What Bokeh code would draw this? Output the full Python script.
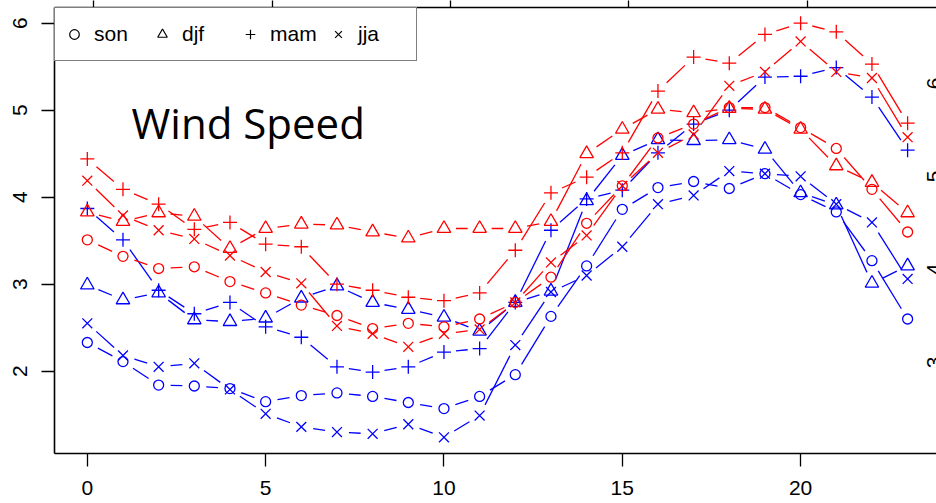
import math
from bokeh.plotting import figure
from bokeh.models import (Range1d, LinearAxis, FixedTicker, Legend, LegendItem,
                          Label)
from bokeh.embed import file_html
from bokeh.resources import INLINE

# ---------------- data ----------------
hours = list(range(24))
seasons = ["son", "djf", "mam", "jja"]

red_son = [3.51, 3.32, 3.18, 3.20, 3.03, 2.90, 2.76, 2.64, 2.49, 2.55, 2.51, 2.60,
           2.79, 3.08, 3.70, 4.13, 4.68, 4.84, 5.03, 5.03, 4.80, 4.56, 4.09, 3.60]
red_djf = [3.83, 3.72, 3.82, 3.78, 3.41, 3.64, 3.69, 3.68, 3.60, 3.53, 3.64, 3.64,
           3.64, 3.72, 4.50, 4.78, 5.01, 4.97, 5.02, 5.01, 4.78, 4.36, 4.17, 3.82]
red_mam = [4.44, 4.09, 3.92, 3.63, 3.71, 3.46, 3.43, 3.00, 2.93, 2.85, 2.81, 2.90,
           3.39, 4.05, 4.23, 4.51, 5.22, 5.61, 5.54, 5.87, 6.00, 5.90, 5.53, 4.85]
red_jja = [4.19, 3.79, 3.62, 3.52, 3.33, 3.14, 3.01, 2.52, 2.43, 2.28, 2.43, 2.48,
           2.79, 3.25, 3.56, 4.13, 4.51, 4.72, 5.28, 5.44, 5.79, 5.44, 5.37, 4.69]

blue_son = [2.33, 2.11, 1.84, 1.83, 1.80, 1.65, 1.72, 1.75, 1.71, 1.64, 1.57, 1.71,
            1.96, 2.63, 3.21, 3.86, 4.11, 4.18, 4.10, 4.27, 4.03, 3.83, 3.27, 2.60]
blue_djf = [2.99, 2.82, 2.90, 2.59, 2.57, 2.61, 2.84, 2.98, 2.79, 2.71, 2.62, 2.46,
            2.79, 2.92, 3.96, 4.48, 4.66, 4.65, 4.66, 4.55, 4.05, 3.91, 3.01, 3.21]
blue_mam = [3.87, 3.51, 2.93, 2.66, 2.79, 2.51, 2.39, 2.05, 1.99, 2.05, 2.22, 2.26,
            2.79, 3.62, 3.98, 4.08, 4.51, 4.84, 5.00, 5.38, 5.39, 5.49, 5.15, 4.54]
blue_jja = [2.55, 2.18, 2.05, 2.09, 1.79, 1.51, 1.36, 1.30, 1.28, 1.39, 1.24, 1.49,
            2.30, 2.91, 3.10, 3.43, 3.92, 4.02, 4.30, 4.27, 4.24, 3.92, 3.71, 3.06]

x_ticks = [0, 5, 10, 15, 20]
y_ticks = [2, 3, 4, 5, 6]
right_ticks = [3, 4, 5, 6]
title_text = "Wind Speed"

# ---------------- layout ----------------
W, H = 936, 503
BL, BR, BT, BB = 54, 0, 7, 50
FW, FH = W - BL - BR, H - BT - BB
X0, X1 = -0.92, 23.81
Y0, Y1 = 1.054, 6.18
KX = FW / (X1 - X0)
KY = FH / (Y1 - Y0)


def sx(px):
    return X0 + (px - BL) / KX


def sy(py):
    return Y1 - (py - BT) / KY


p = figure(width=W, height=H, x_range=Range1d(X0, X1), y_range=Range1d(Y0, Y1),
           x_axis_type=None, y_axis_type=None, output_backend="svg",
           toolbar_location=None, min_border_left=BL, min_border_right=BR,
           min_border_top=BT, min_border_bottom=BB)
p.outline_line_color = None
p.background_fill_color = "white"
p.border_fill_color = "white"

FONT = "Liberation Sans"


def style_axis(ax, ticks, fs="21px"):
    ax.ticker = FixedTicker(ticks=ticks)
    ax.minor_tick_line_color = None
    ax.major_tick_in = 0
    ax.major_tick_out = 13
    ax.axis_line_color = "black"
    ax.axis_line_width = 1.6
    ax.major_tick_line_color = "black"
    ax.major_tick_line_width = 1.3
    ax.major_label_text_font = FONT
    ax.major_label_text_font_size = fs
    ax.major_label_text_color = "black"


xa = LinearAxis()
style_axis(xa, x_ticks)
xa.major_label_standoff = 14
p.add_layout(xa, "below")

ya = LinearAxis()
style_axis(ya, y_ticks)
ya.major_label_orientation = "parallel"
ya.major_label_standoff = 14
p.add_layout(ya, "left")

# top edge with the ticks of the neighbouring panel (no labels)
p.extra_x_ranges = {"top": Range1d(X0 - 0.18, X1 - 0.18)}
ta = LinearAxis(x_range_name="top")
style_axis(ta, x_ticks, fs="0px")
ta.major_label_text_color = None
ta.major_tick_out = 7
ta.major_label_standoff = 0
p.add_layout(ta, "above")

# ---------------- series ----------------
GAP = 12.0


def gapped(xs, ys):
    a, b, c, d = [], [], [], []
    for i in range(len(xs) - 1):
        dx = (xs[i + 1] - xs[i]) * KX
        dy = (ys[i + 1] - ys[i]) * KY
        L = math.hypot(dx, dy)
        if L <= 2 * GAP:
            continue
        f = GAP / L
        a.append(xs[i] + (xs[i + 1] - xs[i]) * f)
        b.append(ys[i] + (ys[i + 1] - ys[i]) * f)
        c.append(xs[i + 1] - (xs[i + 1] - xs[i]) * f)
        d.append(ys[i + 1] - (ys[i + 1] - ys[i]) * f)
    return a, b, c, d


markers = ["circle", "triangle", "cross", "x"]
sizes = [10, 13.5, 14, 14]
series = [("blue", [blue_son, blue_djf, blue_mam, blue_jja]),
          ("red", [red_son, red_djf, red_mam, red_jja])]
COL = {"red": "#FF0000", "blue": "#0000FF"}

for cname, group in series:
    col = COL[cname]
    for vals, m, s in zip(group, markers, sizes):
        a, b, c, d = gapped(hours, vals)
        p.segment(x0=a, y0=b, x1=c, y1=d, line_color=col, line_width=1.3)
        p.scatter(hours, vals, marker=m, size=s, fill_color=None,
                  line_color=col, line_width=1.3)

# ---------------- legend ----------------
nan = float("nan")
items = []
for name, m in zip(seasons, markers):
    r = p.scatter(x=[nan], y=[nan], marker=m, size=10, fill_color=None,
                  line_color="black", line_width=1.2)
    items.append(LegendItem(label=name, renderers=[r]))

leg = Legend(items=items, orientation="horizontal", location="top_left",
             margin=0, padding=7, spacing=5, glyph_width=24, glyph_height=38,
             label_standoff=8, label_width=51, label_height=38,
             label_text_font=FONT, label_text_font_size="21px",
             label_text_color="black", border_line_color="black",
             border_line_width=1.5, background_fill_color="white",
             background_fill_alpha=1.0)
p.add_layout(leg)

# ---------------- texts ----------------
p.add_layout(Label(x=sx(131), y=sy(122), text=title_text,
                   text_font="Open Sans", text_font_size="42px",
                   text_color="black", text_align="left",
                   text_baseline="alphabetic"))

# tick labels of the neighbouring panel, cut by the right edge
p.extra_y_ranges = {"right": Range1d(2.022, 6.817)}
for v in right_ticks:
    p.add_layout(Label(x=sx(933.5), y=v, y_range_name="right", text=str(v),
                       angle=math.pi / 2, text_align="center",
                       text_baseline="middle", text_font=FONT,
                       text_font_size="21px", text_color="black"))

open("out.html", "w").write(file_html(p, INLINE))
